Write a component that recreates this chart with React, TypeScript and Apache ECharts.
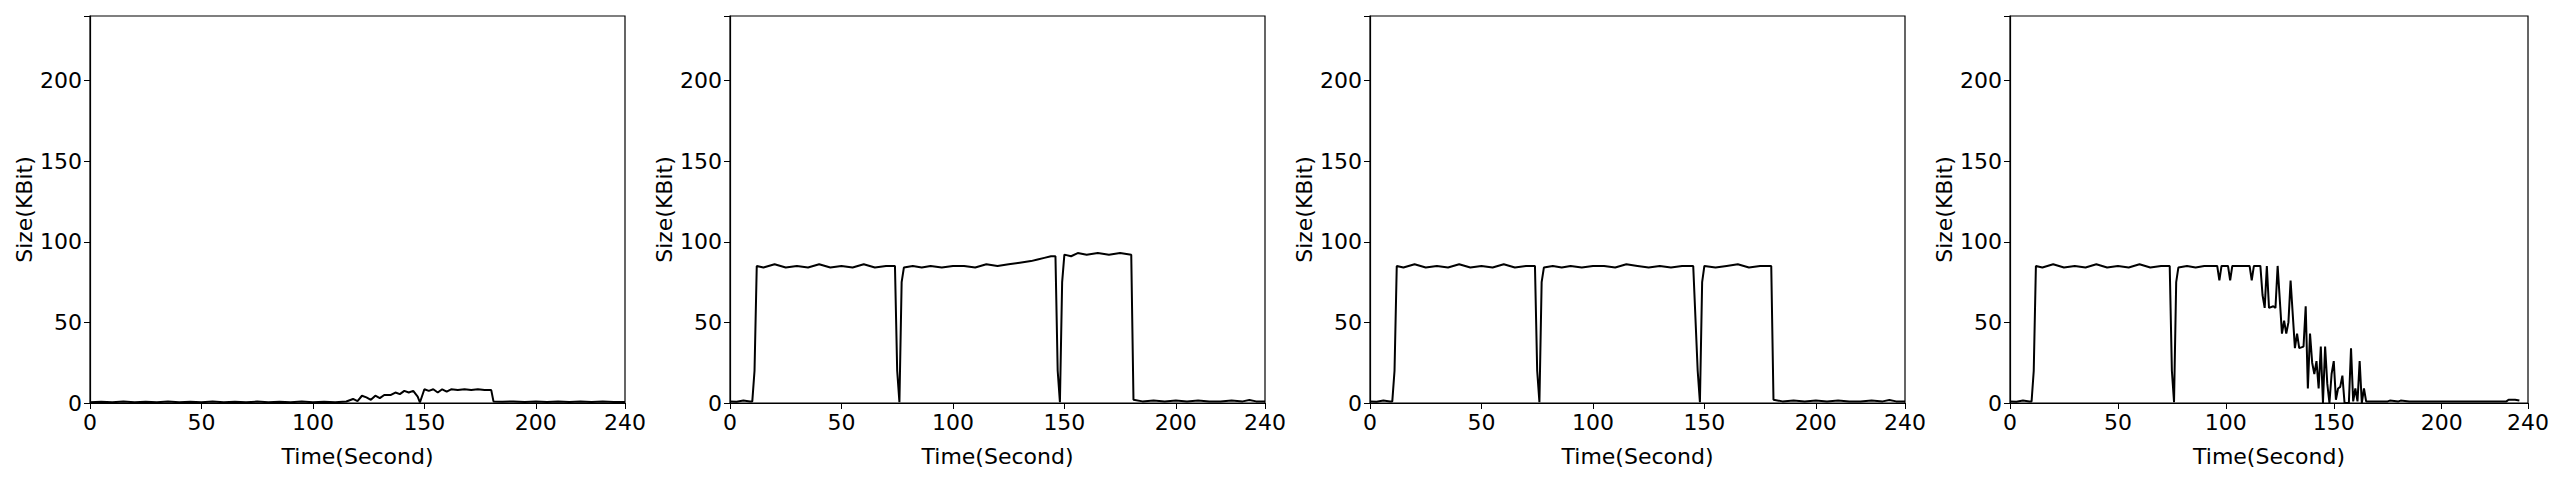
import { useEffect, useRef } from 'react';
import * as echarts from 'echarts';

// [time, size] pairs
const s1: [number, number][] = [
  [0, 0.5], [5, 0.8], [10, 0.4], [15, 0.9], [20, 0.5], [25, 0.8], [30, 0.4], [35, 0.9], [40, 0.5], [45, 0.8],
  [50, 0.4], [55, 0.9], [60, 0.5], [65, 0.8], [70, 0.4], [75, 0.9], [80, 0.5], [85, 0.8], [90, 0.4], [95, 0.9],
  [100, 0.5], [105, 0.8], [110, 0.4], [115, 0.9], [118, 2.5], [120, 1.2], [122, 4.5], [124, 3.5], [126, 2], [128, 4.5],
  [130, 3], [132, 5], [135, 5], [137, 6.5], [139, 5.5], [141, 7.5], [143, 6.5], [145, 7.5], [147, 4], [148, 0.3],
  [150, 8.5], [152, 7.5], [154, 8.5], [156, 6.5], [158, 8.5], [160, 7], [162, 8.5], [165, 8], [168, 8.5], [171, 8],
  [174, 8.5], [177, 8], [180, 8], [181, 1], [185, 0.8], [190, 1], [195, 0.6], [200, 1], [205, 0.6], [210, 1],
  [215, 0.6], [220, 1], [225, 0.6], [230, 1], [235, 0.6], [240, 0.6],
];
const s2: [number, number][] = [
  [0, 1], [3, 0.8], [6, 1.5], [9, 1], [10, 1], [11, 20], [12, 85], [15, 84], [20, 86], [25, 84],
  [30, 85], [35, 84], [40, 86], [45, 84], [50, 85], [55, 84], [60, 86], [65, 84], [70, 85], [74, 85],
  [75, 20], [76, 0.5], [77, 75], [78, 84], [82, 85], [86, 84], [90, 85], [95, 84], [100, 85], [105, 85],
  [110, 84], [115, 86], [120, 85], [125, 86], [130, 87], [135, 88], [138, 89], [141, 90], [144, 91], [146, 91],
  [147, 20], [148, 0.5], [149, 75], [150, 92], [153, 91], [156, 93], [160, 92], [165, 93], [170, 92], [175, 93],
  [180, 92], [181, 2], [185, 1], [190, 1.5], [195, 1], [200, 1.5], [205, 1], [210, 1.5], [215, 1], [220, 1],
  [225, 1.5], [230, 1], [233, 1.8], [236, 1], [240, 1],
];
const s3: [number, number][] = [
  [0, 1], [3, 0.8], [6, 1.5], [9, 1], [10, 1], [11, 20], [12, 85], [15, 84], [20, 86], [25, 84],
  [30, 85], [35, 84], [40, 86], [45, 84], [50, 85], [55, 84], [60, 86], [65, 84], [70, 85], [74, 85],
  [75, 20], [76, 0.5], [77, 75], [78, 84], [82, 85], [86, 84], [90, 85], [95, 84], [100, 85], [105, 85],
  [110, 84], [115, 86], [120, 85], [125, 84], [130, 85], [135, 84], [140, 85], [145, 85], [147, 20], [148, 0.5],
  [149, 75], [150, 85], [155, 84], [160, 85], [165, 86], [170, 84], [175, 85], [180, 85], [181, 2], [185, 1],
  [190, 1.5], [195, 1], [200, 1.5], [205, 1], [210, 1.5], [215, 1], [220, 1], [225, 1.5], [230, 1], [233, 1.8],
  [236, 1], [240, 1],
];
const s4: [number, number][] = [
  [0, 1], [3, 0.8], [6, 1.5], [9, 1], [10, 1], [11, 20], [12, 85], [15, 84], [20, 86], [25, 84],
  [30, 85], [35, 84], [40, 86], [45, 84], [50, 85], [55, 84], [60, 86], [65, 84], [70, 85], [74, 85],
  [75, 20], [76, 0.5], [77, 75], [78, 84], [82, 85], [86, 84], [90, 85], [95, 85], [96, 85], [97, 76],
  [98, 85], [101, 85], [102, 76], [103, 85], [107, 85], [111, 85], [112, 76], [113, 85], [116, 85], [117, 67],
  [118, 59], [119, 85], [120, 59], [122, 60], [123, 59], [124, 85], [126, 43], [127, 51], [128, 43], [129, 50],
  [130, 76], [132, 34], [133, 43], [134, 34], [136, 35], [137, 60], [138, 9], [139, 43], [140, 25], [141, 18],
  [142, 26], [143, 9], [144, 35], [145, 0], [146, 35], [147, 12], [148, 0], [149, 18], [150, 26], [151, 2],
  [152, 9], [153, 10], [154, 17], [155, 0], [157, 0], [158, 34], [159, 1], [160, 9], [161, 1], [162, 26],
  [163, 0], [164, 9], [165, 1], [170, 1], [175, 1], [176, 1.5], [180, 1], [181, 1.5], [185, 1], [190, 1],
  [200, 1], [210, 1], [220, 1], [230, 1], [231, 2], [234, 2], [236, 1.5],
];

const seriesData = [s1, s2, s3, s4];
const gridLefts = [82, 722, 1362, 2002];
const yTicks = [0, 50, 100, 150, 200];

export default function App() {
  const ref = useRef<HTMLDivElement>(null);

  useEffect(() => {
    if (!ref.current) return;
    const chart = echarts.init(ref.current, undefined, { renderer: 'svg' });
    const font = 'DejaVu Sans';
    const label = { color: '#000', fontSize: 22, fontFamily: font };
    const axisLine = { show: true, lineStyle: { color: '#000', width: 1.2 } };

    chart.setOption({
      animation: false,
      grid: gridLefts.map(left => ({ left, width: 535, top: 8, height: 394, show: true, borderColor: '#000', borderWidth: 1.2 })),
      xAxis: gridLefts.map((_, i) => ({
        type: 'value', gridIndex: i, min: 0, max: 240, interval: 50,
        name: 'Time(Second)', nameLocation: 'middle', nameGap: 42,
        nameTextStyle: label, axisLabel: { ...label, margin: 8 },
        axisLine, axisTick: { show: true, length: 6, lineStyle: { color: '#000' } },
        splitLine: { show: false },
      })),
      yAxis: gridLefts.map((_, i) => ({
        type: 'value', gridIndex: i, min: 0, max: 240, interval: 50,
        name: 'Size(KBit)', nameLocation: 'middle', nameGap: 55,
        nameTextStyle: label,
        axisLabel: { ...label, margin: 8, formatter: (v: number) => (yTicks.includes(v) ? String(v) : '') },
        axisLine, axisTick: { show: true, length: 6, lineStyle: { color: '#000' } },
        splitLine: { show: false },
      })),
      series: seriesData.map((data, i) => ({
        type: 'line', xAxisIndex: i, yAxisIndex: i, data,
        symbol: 'none', lineStyle: { color: '#000', width: 2 },
      })),
    });

    return () => chart.dispose();
  }, []);

  return <div ref={ref} style={{ width: 2544, height: 464 }} />;
}
